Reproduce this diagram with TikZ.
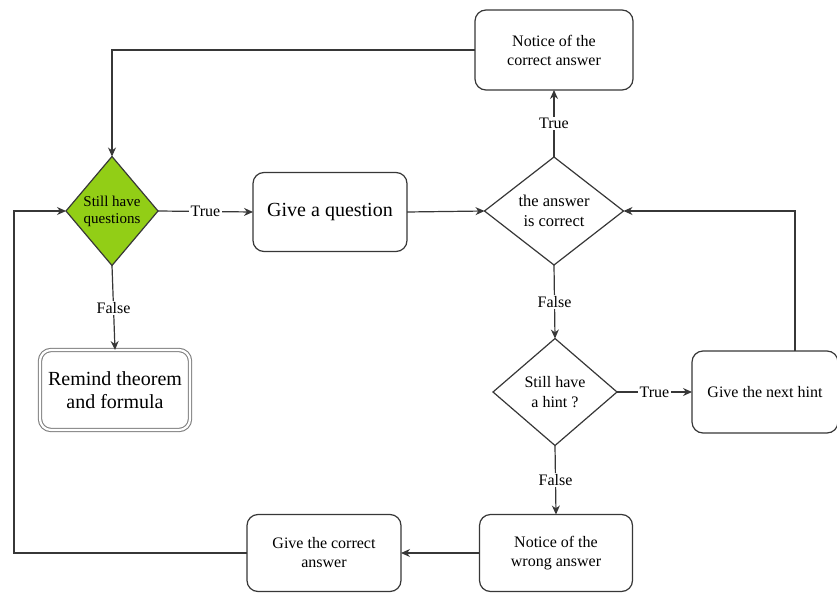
\documentclass[tikz,border=0pt]{standalone}
\usepackage{fontspec}
\setmainfont{Liberation Serif}
\usetikzlibrary{shapes.geometric,arrows.meta,calc}
\definecolor{linegray}{RGB}{55,55,55}
\definecolor{leafgreen}{RGB}{146,206,22}
\begin{document}
\begin{tikzpicture}[x=1pt,y=-1pt,
  every node/.style={inner sep=0pt, outer sep=0pt},
  conn/.style={draw=linegray, line width=1.2pt},
  arr/.style={conn, -{Stealth[length=9pt,width=8pt]}},
  procbox/.style={draw=linegray, line width=1.2pt, rounded corners=11pt, fill=white,
    align=center, font=\fontsize{16}{19}\selectfont},
  decision/.style={diamond, draw=linegray, line width=1.2pt, inner sep=0pt},
  lbl/.style={fill=white, inner sep=1.5pt, font=\fontsize{16}{19}\selectfont}
]
\useasboundingbox (0,0) rectangle (837,596);

% decisions
\node[decision, fill=leafgreen, minimum width=92pt, minimum height=109pt,
  label={[align=center,font=\fontsize{15}{17}\selectfont]center:Still have\\questions}]
  (d1) at (112,211) {};
\node[decision, fill=white, minimum width=139pt, minimum height=108pt,
  label={[align=center,font=\fontsize{16.5}{20}\selectfont]center:the answer\\is correct}]
  (d2) at (554,211) {};
\node[decision, fill=white, minimum width=124pt, minimum height=107pt,
  label={[align=center,font=\fontsize{16}{20}\selectfont]center:Still have\\a hint ?}]
  (d3) at (555,392) {};

% process boxes
\node[procbox, minimum width=158pt, minimum height=80pt] (nc) at (554,50) {Notice of the\\correct answer};
\node[procbox, minimum width=154pt, minimum height=79pt, font=\fontsize{20}{24}\selectfont] (gq) at (330,212) {Give a question};
\node[procbox, minimum width=150pt, minimum height=80pt, font=\fontsize{20}{23}\selectfont,
  draw=gray, double=white, double distance=2.2pt, line width=1.1pt] (rm) at (115,390) {Remind theorem\\and formula};
\node[procbox, minimum width=146pt, minimum height=82pt] (nh) at (765,392) {Give the next hint};
\node[procbox, minimum width=153pt, minimum height=77pt] (nw) at (556,553) {Notice of the\\wrong answer};
\node[procbox, minimum width=154pt, minimum height=77pt] (gc) at (324,553) {Give the correct\\answer};

% connectors
\draw[arr] (d1.east) -- node[lbl]{True} (gq.west);
\draw[arr] (d1.south) -- node[lbl]{False} (rm.north);
\draw[arr] (gq.east) -- (d2.west);
\draw[arr] (d2.north) -- node[lbl]{True} (nc.south);
\draw[arr] (d2.south) -- node[lbl]{False} (d3.north);
\draw[arr] (d3.east) -- node[lbl]{True} (nh.west);
\draw[arr] (d3.south) -- node[lbl]{False} (nw.north);
\draw[arr] (nw.west) -- (gc.east);
\draw[arr] (nc.west) -| (d1.north);
\draw[arr] ([xshift=30pt]nh.north) |- (d2.east);
\draw[arr] (gc.west) -- ++(-233,0) |- (d1.west);
\end{tikzpicture}
\end{document}
